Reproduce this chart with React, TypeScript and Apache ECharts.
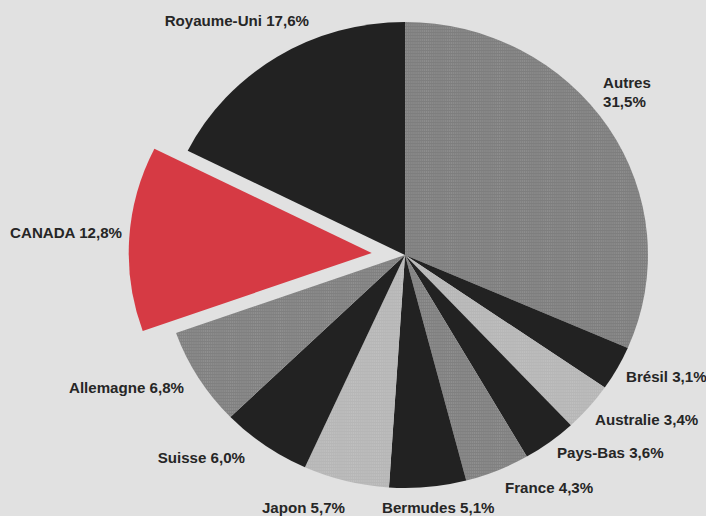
import React, { useEffect, useRef } from "react";
import * as echarts from "echarts";

const countries = [
  "Autres",
  "Brésil",
  "Australie",
  "Pays-Bas",
  "France",
  "Bermudes",
  "Japon",
  "Suisse",
  "Allemagne",
  "CANADA",
  "Royaume-Uni",
];
const shares = [31.5, 3.1, 3.4, 3.6, 4.3, 5.1, 5.7, 6.0, 6.8, 12.8, 17.6];
const sliceColors = [
  "#7e7e7e",
  "#222222",
  "#b6b6b6",
  "#222222",
  "#808080",
  "#222222",
  "#b6b6b6",
  "#222222",
  "#808080",
  "#d63a44",
  "#222222",
];
const highlighted = "CANADA";

// The original scan is slightly wider than tall: stretch horizontally.
const STRETCH = 1.0428;
const W = 706;
const H = 516;
const OFFSET = 32;
const CENTER: [number, number] = [405 / STRETCH, 255];
const RADIUS = 233;

// label anchor positions in page pixels (layout only)
const labelSpots: [number, number, string][] = [
  [603, 93, "left"],
  [626, 377, "left"],
  [595, 420, "left"],
  [557, 453, "left"],
  [505, 488, "left"],
  [382, 508, "left"],
  [345, 508, "right"],
  [245, 458, "right"],
  [184, 388, "right"],
  [122, 233, "right"],
  [309, 21, "right"],
];

const fmt = (v: number) => v.toFixed(1).replace(".", ",") + "%";
const CLEAR = "rgba(0,0,0,0)";

export default function App() {
  const ref = useRef<HTMLDivElement>(null);
  useEffect(() => {
    if (!ref.current) return;
    const chart = echarts.init(ref.current, undefined, { renderer: "svg" });
    const isGray = (c: string) => c === "#7e7e7e" || c === "#808080" || c === "#b6b6b6";
    const decalFor = (c: string) =>
      isGray(c)
        ? {
            symbol: "circle",
            symbolSize: 0.6,
            dashArrayX: [2, 0],
            dashArrayY: [2, 1],
            color: "rgba(255,255,255,0.18)",
          }
        : undefined;
    chart.setOption({
      animation: false,
      backgroundColor: "#e1e1e1",
      series: [
        {
          // all slices and all labels; the highlighted slice is drawn by the second series
          type: "pie",
          center: CENTER,
          radius: RADIUS,
          startAngle: 90,
          clockwise: true,
          avoidLabelOverlap: false,
          silent: true,
          emphasis: { disabled: true },
          labelLine: { show: false },
          label: {
            show: true,
            position: "outside",
            fontFamily: "Liberation Sans, Arial, sans-serif",
            fontWeight: "bold",
            fontSize: 14.5,
            lineHeight: 19,
            color: "#262626",
            formatter: (p: any) =>
              p.name === "Autres" ? `${p.name}\n${fmt(p.value)}` : `${p.name} ${fmt(p.value)}`,
          },
          labelLayout: (p: any) => {
            const s = labelSpots[p.dataIndex];
            return {
              x: s[0] / STRETCH,
              y: s[1],
              align: s[2],
              verticalAlign: "middle",
            };
          },
          data: countries.map((name, i) => ({
            name,
            value: shares[i],
            itemStyle: {
              color: name === highlighted ? CLEAR : sliceColors[i],
              decal: name === highlighted ? undefined : decalFor(sliceColors[i]),
            },
          })),
        },
        {
          // the exploded slice
          type: "pie",
          center: CENTER,
          radius: RADIUS,
          startAngle: 90,
          clockwise: true,
          selectedMode: "single",
          selectedOffset: OFFSET,
          silent: true,
          emphasis: { disabled: true },
          label: { show: false },
          labelLine: { show: false },
          data: countries.map((name, i) => ({
            name,
            value: shares[i],
            selected: name === highlighted,
            itemStyle: { color: name === highlighted ? sliceColors[i] : CLEAR },
          })),
        },
      ],
    });
    return () => chart.dispose();
  }, []);
  return (
    <div
      ref={ref}
      style={{
        position: "fixed",
        left: 0,
        top: 0,
        width: W / STRETCH,
        height: H,
        transform: `scaleX(${STRETCH})`,
        transformOrigin: "0 0",
      }}
    />
  );
}
